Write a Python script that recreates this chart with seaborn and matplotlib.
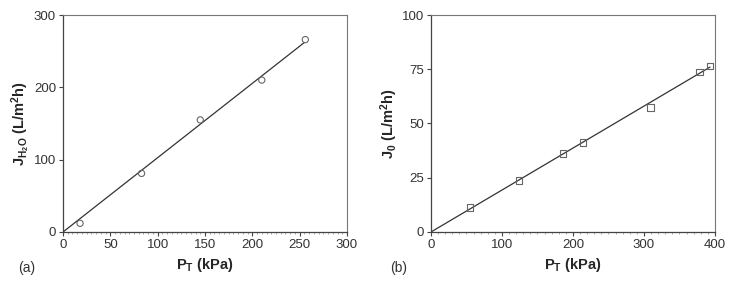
import matplotlib
matplotlib.use("Agg")
import matplotlib.pyplot as plt
import seaborn as sns
import pandas as pd
from matplotlib.ticker import MultipleLocator

sns.set_style("ticks")
plt.rcParams['font.family'] = ['Liberation Sans', 'DejaVu Sans']
plt.rcParams['mathtext.fontset'] = 'custom'
plt.rcParams['mathtext.rm'] = 'Liberation Sans'
plt.rcParams['mathtext.bf'] = 'Liberation Sans:bold'

# panel (a): pure water flux vs transmembrane pressure
pa_pressure = [18, 83, 145, 210, 256]
pa_flux = [12, 81, 155, 210, 266]
pa_fit_x = [0, 255]
pa_fit_y = [0, 262]

# panel (b): initial flux vs transmembrane pressure
pb_pressure = [55, 124, 186, 214, 309, 378, 393]
pb_flux = [11.2, 23.8, 36.2, 41.2, 57.4, 73.7, 76.5]
pb_fit_x = [0, 393]
pb_fit_y = [0, 76]

df_a = pd.DataFrame({'P': pa_pressure, 'J': pa_flux})
df_b = pd.DataFrame({'P': pb_pressure, 'J': pb_flux})
fit_a = pd.DataFrame({'P': pa_fit_x, 'J': pa_fit_y})
fit_b = pd.DataFrame({'P': pb_fit_x, 'J': pb_fit_y})

fig = plt.figure(figsize=(7.3, 2.81), dpi=100)
ax1 = fig.add_axes([0.0863, 0.1744, 0.389, 0.7722])
ax2 = fig.add_axes([0.5904, 0.1744, 0.389, 0.7722])

sns.lineplot(data=fit_a, x='P', y='J', ax=ax1, color='#333333', lw=0.9)
sns.scatterplot(data=df_a, x='P', y='J', ax=ax1, marker='o', s=20,
                facecolor='none', edgecolor='#666666', linewidth=0.8, zorder=3)
sns.lineplot(data=fit_b, x='P', y='J', ax=ax2, color='#333333', lw=0.9)
sns.scatterplot(data=df_b, x='P', y='J', ax=ax2, marker='s', s=22,
                facecolor='none', edgecolor='#666666', linewidth=0.8, zorder=3)

ax1.set_xlim(0, 300)
ax1.set_ylim(0, 300)
ax1.xaxis.set_major_locator(MultipleLocator(50))
ax1.yaxis.set_major_locator(MultipleLocator(100))
ax1.xaxis.set_minor_locator(MultipleLocator(5))
ax1.set_xlabel(r'$\mathbf{P_T}$ (kPa)', fontweight='bold', fontsize=10.5, labelpad=4)
ax1.set_ylabel(r'$\mathbf{J_{H_2O}}$ (L/m$\mathbf{^2}$h)', fontweight='bold', fontsize=10.5, labelpad=1)

ax2.set_xlim(0, 400)
ax2.set_ylim(0, 100)
ax2.xaxis.set_major_locator(MultipleLocator(100))
ax2.yaxis.set_major_locator(MultipleLocator(25))
ax2.xaxis.set_minor_locator(MultipleLocator(10))
ax2.set_xlabel(r'$\mathbf{P_T}$ (kPa)', fontweight='bold', fontsize=10.5, labelpad=4)
ax2.set_ylabel(r'$\mathbf{J_0}$ (L/m$\mathbf{^2}$h)', fontweight='bold', fontsize=10.5, labelpad=1)

for ax in (ax1, ax2):
    ax.tick_params(axis='both', which='major', labelsize=9.5, length=3,
                   width=0.8, color='#444444', labelcolor='#333333', pad=2)
    ax.tick_params(axis='x', which='minor', length=1.5, width=0.5, color='#888888')
    for side in ('left', 'bottom'):
        ax.spines[side].set_color('#444444')
        ax.spines[side].set_linewidth(0.9)
    for side in ('top', 'right'):
        ax.spines[side].set_color('#777777')
        ax.spines[side].set_linewidth(0.8)

fig.text(18 / 730, 1 - 268 / 281, '(a)', fontsize=10, color='#333333', va='center')
fig.text(390 / 730, 1 - 268 / 281, '(b)', fontsize=10, color='#333333', va='center')

fig.savefig('out.png', dpi=100)
